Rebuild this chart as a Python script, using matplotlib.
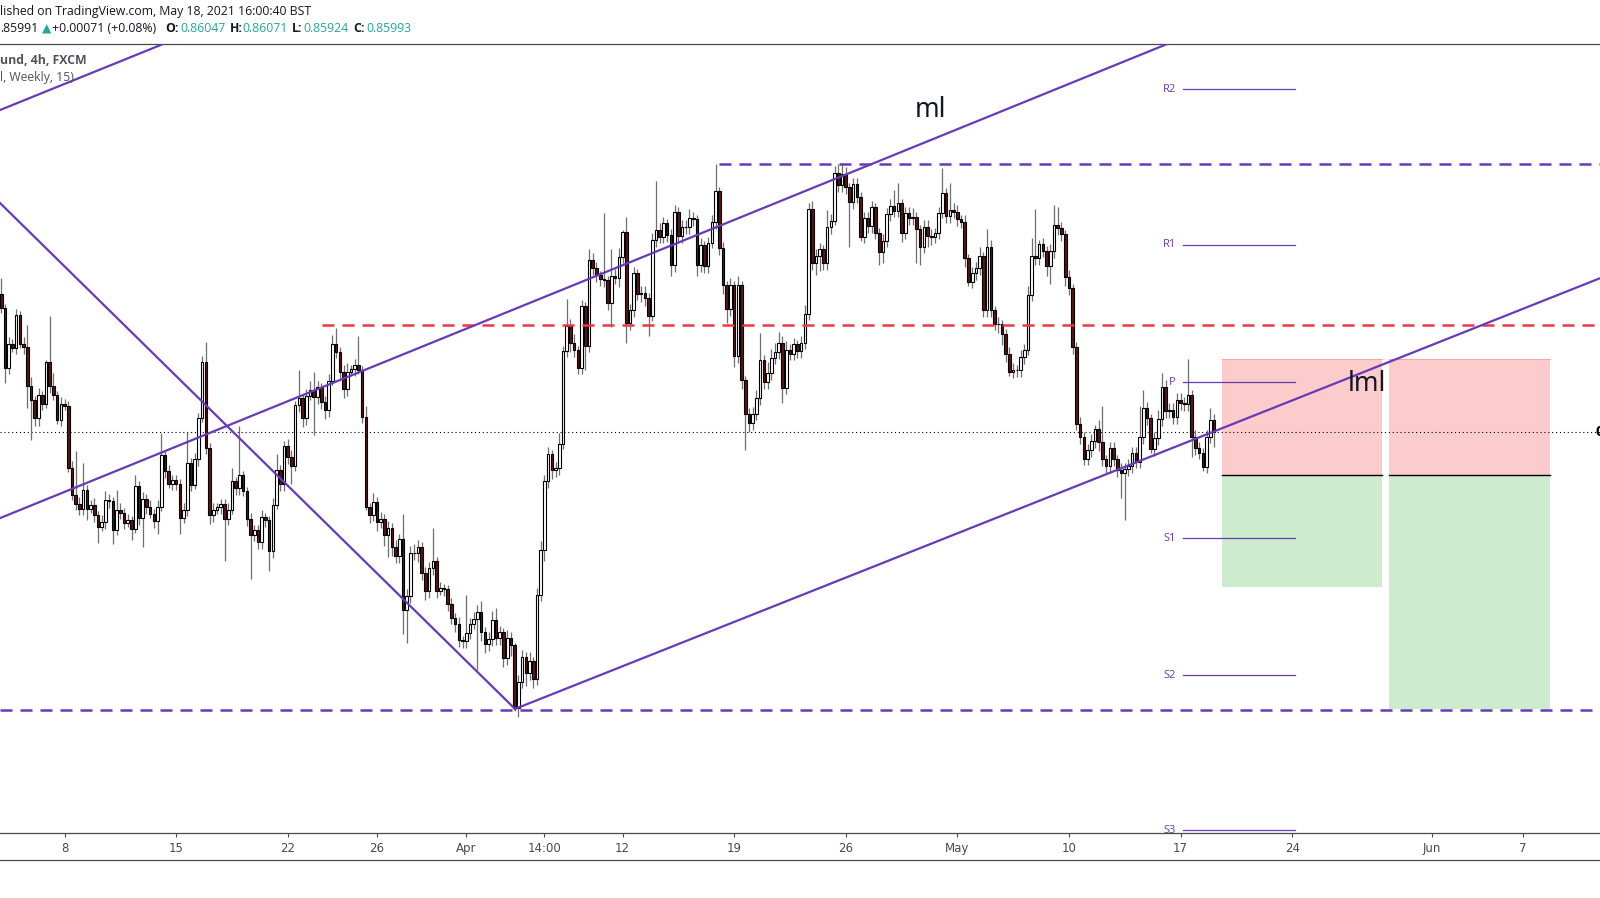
import numpy as np
import matplotlib.pyplot as plt
from matplotlib.lines import Line2D

# EUR/GBP 4h, FXCM -- prices are in pips (1 pip = 0.0001)
PIP = 1e-4

first_open = 8661.4
closes = [
    8654.7, 8628.1, 8638.9, 8637.1, 8651.6, 8638.9, 8637.4, 8619.8, 8613.4, 8605.6,
    8615.7, 8611.9, 8630.4, 8619.7, 8615.7, 8604.7, 8611.9, 8610.9, 8583.1, 8570.7,
    8566.9, 8564.7, 8573.2, 8564.7, 8566.5, 8561.7, 8556.4, 8558.6, 8568.4, 8568.1,
    8554.9, 8564.2, 8562.8, 8558.3, 8559.4, 8555.6, 8575.0, 8560.4, 8569.2, 8565.4,
    8562.4, 8559.1, 8565.4, 8588.6, 8581.4, 8575.9, 8577.7, 8575.9, 8560.4, 8564.2,
    8585.3, 8575.4, 8586.8, 8605.6, 8630.4, 8592.1, 8561.7, 8564.2, 8565.4, 8566.9,
    8560.2, 8564.2, 8576.9, 8573.9, 8579.6, 8572.4, 8559.9, 8553.0, 8555.2, 8549.7,
    8560.9, 8559.4, 8545.5, 8566.5, 8582.2, 8575.6, 8593.0, 8587.9, 8583.7, 8611.2,
    8614.2, 8605.2, 8615.3, 8618.0, 8614.7, 8619.2, 8612.5, 8609.0, 8622.2, 8638.7,
    8635.3, 8626.2, 8618.3, 8626.2, 8627.3, 8629.1, 8627.0, 8606.0, 8565.2, 8562.0,
    8567.8, 8558.8, 8560.2, 8553.0, 8556.0, 8547.5, 8543.4, 8551.2, 8519.3, 8525.3,
    8544.9, 8544.5, 8547.5, 8535.5, 8527.7, 8537.8, 8541.0, 8527.7, 8528.8, 8528.3,
    8521.6, 8515.7, 8513.0, 8505.5, 8505.2, 8508.9, 8512.7, 8515.2, 8518.2, 8509.3,
    8503.6, 8506.0, 8514.8, 8506.3, 8509.0, 8497.3, 8506.3, 8503.3, 8474.8, 8486.8,
    8498.0, 8490.8, 8496.0, 8488.2, 8526.0, 8546.0, 8577.0, 8589.2, 8582.0, 8582.8,
    8593.6, 8635.7, 8646.8, 8639.0, 8636.0, 8628.1, 8655.7, 8637.9, 8676.4, 8672.7,
    8669.7, 8667.7, 8667.4, 8657.2, 8669.2, 8668.5, 8677.9, 8688.9, 8648.2, 8653.9,
    8670.4, 8661.4, 8661.7, 8659.6, 8651.2, 8685.4, 8689.9, 8686.9, 8692.9, 8687.6,
    8674.2, 8698.2, 8687.2, 8691.4, 8691.1, 8695.2, 8694.8, 8674.2, 8683.2, 8673.7,
    8683.9, 8693.6, 8707.5, 8681.7, 8665.2, 8654.3, 8665.2, 8633.3, 8665.2, 8622.4,
    8607.0, 8603.2, 8607.4, 8614.2, 8631.7, 8621.6, 8625.7, 8632.6, 8635.0, 8639.3,
    8619.0, 8635.9, 8634.4, 8638.5, 8635.4, 8639.3, 8652.4, 8699.2, 8674.9, 8678.3,
    8681.2, 8674.9, 8691.1, 8694.1, 8715.7, 8710.2, 8715.1, 8709.1, 8702.4, 8710.5,
    8704.9, 8686.9, 8695.2, 8691.7, 8700.1, 8688.7, 8680.2, 8685.1, 8697.0, 8700.9,
    8698.6, 8701.9, 8688.7, 8697.4, 8695.2, 8695.9, 8690.2, 8682.4, 8691.4, 8687.4,
    8687.0, 8688.8, 8697.4, 8706.8, 8696.3, 8698.9, 8698.2, 8694.7, 8693.7, 8677.2,
    8666.7, 8670.4, 8672.7, 8678.2, 8653.9, 8682.4, 8653.9, 8647.9, 8647.6, 8643.4,
    8634.4, 8626.2, 8627.2, 8626.9, 8632.9, 8635.9, 8660.9, 8678.2, 8677.2, 8683.5,
    8680.6, 8673.7, 8680.5, 8692.2, 8690.7, 8688.0, 8668.9, 8663.7, 8637.4, 8602.9,
    8596.9, 8587.2, 8590.9, 8595.0, 8600.3, 8594.8, 8586.8, 8583.8, 8591.8, 8586.8,
    8582.0, 8580.5, 8582.3, 8583.8, 8589.5, 8585.8, 8596.7, 8609.8, 8605.3, 8591.5,
    8596.3, 8604.8, 8619.5, 8608.6, 8609.0, 8605.7, 8613.5, 8612.0, 8611.7, 8615.8,
    8597.0, 8591.8, 8589.8, 8583.5, 8597.0, 8604.7, 8599.3,
]
upper_wick = [
    7, 2, 3, 2, 3, 2, 3, 10, 4, 2,
    3, 2, 1, 21, 6, 2, 3, 2, 2, 3,
    20, 3, 12, 2, 2, 3, 2, 3, 4, 3,
    2, 9, 3, 2, 3, 2, 5, 2, 3, 2,
    3, 2, 3, 10, 2, 3, 2, 2, 2, 3,
    14, 2, 3, 2, 3, 9, 2, 3, 2, 2,
    2, 3, 6, 2, 22, 2, 2, 3, 2, 2,
    3, 2, 2, 3, 7, 2, 2, 3, 3, 2,
    13, 2, 3, 4, 8, 3, 2, 3, 3, 4,
    7, 2, 3, 4, 2, 3, 13, 2, 5, 2,
    4, 2, 3, 2, 3, 2, 3, 2, 11, 3,
    3, 4, 3, 2, 3, 3, 15, 2, 3, 2,
    2, 3, 2, 3, 2, 17, 3, 3, 3, 5,
    2, 3, 4, 5, 3, 2, 4, 3, 1, 3,
    3, 2, 4, 2, 3, 4, 3, 3, 2, 3,
    5, 2, 12, 3, 4, 2, 3, 2, 5, 3,
    3, 2, 30, 2, 12, 3, 4, 1, 7, 3,
    3, 2, 3, 3, 2, 3, 22, 3, 3, 2,
    3, 3, 2, 3, 3, 4, 3, 2, 3, 2,
    3, 3, 12, 2, 3, 2, 3, 2, 4, 2,
    2, 3, 3, 4, 12, 2, 5, 4, 4, 5,
    3, 4, 3, 3, 2, 3, 4, 3, 4, 3,
    3, 2, 8, 3, 3, 4, 5, 3, 2, 3,
    3, 2, 3, 3, 3, 2, 2, 3, 3, 3,
    7, 9, 2, 3, 3, 4, 2, 2, 3, 3,
    3, 2, 3, 11, 2, 12, 3, 3, 2, 3,
    2, 3, 3, 4, 2, 8, 3, 2, 3, 2,
    2, 3, 3, 2, 3, 3, 4, 8, 21, 2,
    3, 2, 3, 9, 8, 3, 2, 3, 2, 2,
    3, 2, 3, 3, 2, 4, 16, 2, 3, 3,
    2, 3, 3, 3, 3, 3, 14, 8, 3, 2,
    3, 4, 6, 3, 3, 3, 3, 3, 3, 16,
    2, 3, 3, 2, 3, 5, 2.4,
]
lower_wick = [
    2, 7, 3, 2, 3, 2, 3, 10, 18, 4,
    4, 3, 2, 3, 2, 2, 3, 2, 2, 2,
    3, 3, 3, 5, 2, 3, 7, 2, 3, 3,
    6, 2, 3, 3, 2, 5, 2, 3, 13, 3,
    2, 3, 6, 2, 3, 2, 3, 3, 7, 2,
    3, 3, 2, 3, 2, 3, 4, 3, 2, 3,
    19, 3, 2, 3, 3, 2, 3, 20, 3, 3,
    3, 3, 9, 3, 2, 3, 3, 3, 8, 2,
    3, 4, 3, 2, 17, 3, 3, 4, 3, 2,
    3, 3, 4, 3, 2, 3, 2, 3, 1, 4,
    3, 4, 3, 5, 10, 4, 3, 3, 11, 15,
    3, 3, 4, 3, 4, 3, 3, 3, 2, 3,
    3, 3, 4, 3, 3, 3, 3, 2, 23, 4,
    4, 3, 3, 3, 3, 4, 3, 5, 1, 4,
    3, 6, 3, 4, 3, 3, 5, 3, 4, 3,
    3, 2, 3, 4, 3, 3, 3, 11, 3, 3,
    3, 3, 3, 3, 11, 3, 4, 3, 9, 3,
    3, 3, 4, 4, 9, 2, 3, 3, 3, 3,
    5, 3, 3, 3, 3, 3, 3, 5, 3, 3,
    3, 2, 3, 3, 4, 6, 3, 5, 3, 4,
    16, 4, 3, 3, 3, 3, 3, 3, 3, 3,
    7, 3, 3, 3, 3, 3, 3, 3, 3, 5,
    7, 3, 3, 3, 2, 3, 3, 3, 20, 3,
    3, 2, 3, 3, 3, 3, 6, 5, 3, 3,
    3, 3, 4, 3, 3, 3, 15, 8, 3, 5,
    4, 3, 3, 2, 3, 3, 3, 3, 3, 4,
    2, 3, 3, 3, 3, 3, 3, 3, 4, 5,
    4, 2, 3, 3, 3, 3, 2, 3, 3, 3,
    3, 4.5, 8, 3, 3, 3, 4, 3, 3, 3,
    3, 3, 3, 3, 3, 4, 3, 3, 3, 3,
    3, 11, 21, 3, 3, 3, 3, 3, 3, 2,
    3, 3, 3, 3, 3, 3, 3, 3, 3, 3,
    9, 3, 3, 2, 3, 3, 6.9,
]

# time axis (bar index of each label)
tick_pos = [17, 47, 77, 101, 125, 146, 167, 197, 227, 257, 287, 317, 347, 384.5, 409]
tick_lab = ['8', '15', '22', '26', 'Apr', '14:00', '12', '19', '26', 'May',
            '10', '17', '24', 'Jun', '7']

# weekly pivot points, week of May 17
piv_names = ['R2', 'R1', 'P', 'S1', 'S2', 'S3']
piv_vals = [8753.3, 8683.3, 8621.4, 8551.3, 8489.7, 8420.1]
piv_from, piv_to = 317.7, 347.8

# horizontal levels
april_high = 8719.6
april_low = 8474.1
red_level = 8647.2
last_price = 8599.1

# trend lines: (bar index, pips) anchors
ml_pts = [(-0.35, 8560.4), (313.4, 8773.6)]
top_pts = [(-0.35, 8743.9), (43.5, 8773.6)]
down_pts = [(-0.35, 8702.1), (138.1, 8474.6)]
lml_pts = [(138.1, 8474.6), (429.8, 8668.3)]

# two short positions: (from, to, stop, entry, target)
positions = [(328.2, 371.2, 8631.9, 8579.8, 8529.5),
             (373.0, 416.3, 8631.9, 8579.8, 8474.7)]

PURPLE = '#673ab7'
TEAL = '#26a69a'
DARK = '#131722'
GREY = '#50535e'
hfam = ['Open Sans', 'Noto Sans', 'DejaVu Sans']

W, H = 1600, 898
fig = plt.figure(figsize=(W / 100, H / 100), dpi=100)
fig.patch.set_facecolor('white')
ax = fig.add_axes([0, 1 - 833 / H, 1, (833 - 44) / H])
ax.set_xlim(-0.35, 429.76)
ax.set_ylim(8418.8 * PIP, 8773.6 * PIP)

# candles
c = np.array(closes)
o = np.array([first_open] + closes[:-1])
hi = np.maximum(o, c) + np.array(upper_wick)
lo = np.minimum(o, c) - np.array(lower_wick)
idx = np.arange(len(c))
up = c >= o
ax.vlines(idx, lo * PIP, hi * PIP, color='#6f6f6f', lw=0.9, zorder=2)
ax.bar(idx[up], (c - o)[up] * PIP, bottom=o[up] * PIP, width=0.7,
       color='white', edgecolor='black', linewidth=0.8, zorder=3)
ax.bar(idx[~up], (o - c)[~up] * PIP, bottom=c[~up] * PIP, width=0.7,
       color='#5a1414', edgecolor='black', linewidth=0.8, zorder=3)

# position boxes
for x0, x1, stop, entry, target in positions:
    ax.fill_between([x0, x1], entry * PIP, stop * PIP, color='#fccbcb', lw=0, zorder=1)
    ax.fill_between([x0, x1], target * PIP, entry * PIP, color='#cdebcd', lw=0, zorder=1)
    ax.plot([x0, x1], [stop * PIP, stop * PIP], color='#f4a9a9', lw=0.8, zorder=1.2)
    ax.plot([x0, x1], [entry * PIP, entry * PIP], color='black', lw=1.0, zorder=1.2)

# horizontal levels
dash = (0, (4.8, 3.2))
ax.plot([193, 429.76], [april_high * PIP] * 2, color=PURPLE, lw=1.8, ls=dash, zorder=4)
ax.plot([-0.35, 429.76], [april_low * PIP] * 2, color=PURPLE, lw=1.8, ls=dash, zorder=4)
ax.plot([86.2, 429.76], [red_level * PIP] * 2, color='#f23645', lw=1.8, ls=dash, zorder=4)
ax.axhline(last_price * PIP, color='black', lw=0.8, ls=(0, (1, 2.5)), zorder=1.5)

# trend lines
for pts in (ml_pts, top_pts):
    ax.axline((pts[0][0], pts[0][1] * PIP), (pts[1][0], pts[1][1] * PIP),
              color=PURPLE, lw=1.6, zorder=5)
for pts in (down_pts, lml_pts):
    ax.plot([p[0] for p in pts], [p[1] * PIP for p in pts], color=PURPLE, lw=1.6, zorder=5)

# pivots
for name, val in zip(piv_names, piv_vals):
    ax.plot([piv_from, piv_to], [val * PIP] * 2, color=PURPLE, lw=0.9, zorder=2.5)
    ax.text(piv_from - 1.9, val * PIP, name, ha='right', va='center', color=PURPLE,
            fontsize=8, family=hfam, clip_on=True, zorder=2.5)

# labels on the chart
ax.text(249.9, 8744.0 * PIP, 'ml', ha='center', va='center', fontsize=19,
        color=DARK, family=['Noto Sans', 'DejaVu Sans'], zorder=6)
ax.text(367.1, 8620.7 * PIP, 'lml', ha='center', va='center', fontsize=19,
        color=DARK, family=['Noto Sans', 'DejaVu Sans'], zorder=6)

# axis styling
for side in ('left', 'right'):
    ax.spines[side].set_visible(False)
for side in ('top', 'bottom'):
    ax.spines[side].set_color('#4a4a4a')
    ax.spines[side].set_linewidth(0.9)
ax.set_yticks([])
ax.set_xticks(tick_pos, tick_lab)
ax.tick_params(axis='x', direction='out', length=3, width=0.8, color='#4a4a4a',
               labelcolor='#4a4a4a', labelsize=8.5, pad=3.5)
for lab in ax.get_xticklabels():
    lab.set_family(['Liberation Sans Narrow', 'DejaVu Sans'])
fig.add_artist(Line2D([0, 1], [1 - 860 / H] * 2, color='#4a4a4a', lw=0.9))

# header
fig.text(0, 1 - 12 / H, 'lished on TradingView.com, May 18, 2021 16:00:40 BST',
         ha='left', va='center', fontsize=8.8, color=DARK, family=hfam)
row2 = [(0, '.85991', DARK, 'normal'), (42, '▲', TEAL, 'normal'),
        (52, '+0.00071 (+0.08%)', DARK, 'normal'),
        (165, 'O:', DARK, 'bold'), (180, '0.86047', TEAL, 'normal'),
        (229.5, 'H:', DARK, 'bold'), (242, '0.86071', TEAL, 'normal'),
        (292, 'L:', DARK, 'bold'), (303, '0.85924', TEAL, 'normal'),
        (353, 'C:', DARK, 'bold'), (366, '0.85993', TEAL, 'normal')]
for x, s, col, wt in row2:
    fig.text(x / W, 1 - 29 / H, s, ha='left', va='center', fontsize=8.8,
             color=col, weight=wt, family=hfam)
fig.text(0, 1 - 60 / H, 'und, 4h, FXCM', ha='left', va='center', fontsize=8.8,
         color=GREY, weight='bold', family=hfam)
fig.text(0, 1 - 77.5 / H, 'l, Weekly, 15)', ha='left', va='center', fontsize=8.8,
         color=GREY, family=hfam)
fig.text(1595 / W, 1 - 432 / H, '0', ha='left', va='center', fontsize=11,
         color='black', weight='bold', family=hfam)

fig.savefig('out.png', dpi=100)
